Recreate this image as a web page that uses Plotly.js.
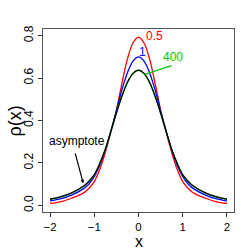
<!DOCTYPE html>
<html><head><meta charset="utf-8">
<script src="https://cdn.plot.ly/plotly-3.0.1.min.js"></script>
<style>html,body{margin:0;padding:0;background:#fff}#c{width:249px;height:249px}</style>
</head><body><div id="c"></div>
<script>
var xVals = [-2,-1.75,-1.5,-1.25,-1.125,-1,-0.875,-0.75,-0.625,-0.5,-0.375,-0.25,-0.125,0,0.125,0.25,0.375,0.5,0.625,0.75,0.875,1,1.125,1.25,1.5,1.75,2];
var red05 = [0.009,0.018,0.035,0.058,0.080,0.112,0.170,0.250,0.345,0.450,0.575,0.690,0.765,0.793,0.765,0.690,0.575,0.450,0.345,0.250,0.170,0.112,0.080,0.058,0.035,0.018,0.009];
var blue1 = [0.021,0.032,0.050,0.078,0.100,0.135,0.190,0.262,0.350,0.445,0.545,0.625,0.680,0.700,0.680,0.625,0.545,0.445,0.350,0.262,0.190,0.135,0.100,0.078,0.050,0.032,0.021];
var green400 = [0.028,0.040,0.059,0.089,0.112,0.144,0.197,0.264,0.349,0.434,0.514,0.579,0.621,0.636,0.621,0.579,0.514,0.434,0.349,0.264,0.197,0.144,0.112,0.089,0.059,0.040,0.028];
var asym = [0.029,0.041,0.060,0.090,0.113,0.145,0.198,0.265,0.350,0.435,0.515,0.580,0.622,0.637,0.622,0.580,0.515,0.435,0.350,0.265,0.198,0.145,0.113,0.090,0.060,0.041,0.029];
var xTicks = [-2,-1,0,1,2];
var xTickText = ['\u22122','\u22121','0','1','2'];
var yTicks = [0,0.2,0.4,0.6,0.8];
var yTickText = ['0.0','0.2','0.4','0.6','0.8'];

function tr(y, c){ return {x:xVals, y:y, mode:'lines', line:{color:c, width:1.3, shape:'spline', smoothing:1}, hoverinfo:'none', showlegend:false}; }
var data = [tr(red05,'#ff0000'), tr(blue1,'#0000ff'), tr(green400,'#00cc00'), tr(asym,'#000000')];
var f = 'Liberation Sans, Arial, sans-serif';
var layout = {
  width:249, height:249, paper_bgcolor:'#fff', plot_bgcolor:'#fff',
  margin:{l:43, r:15, t:29, b:37},
  font:{family:f, size:11, color:'#000'},
  xaxis:{range:[-2.16,2.16], tickvals:xTicks, ticktext:xTickText, ticks:'outside', ticklen:4, tickcolor:'#333',
    showgrid:false, zeroline:false, showline:true, linecolor:'#555', linewidth:1, mirror:true,
    tickfont:{size:11.5}, ticklabelstandoff:0},
  yaxis:{range:[-0.031,0.831], tickvals:yTicks, ticktext:yTickText, ticks:'outside', ticklen:4, tickcolor:'#333',
    showgrid:false, zeroline:false, showline:true, linecolor:'#555', linewidth:1, mirror:true, tickangle:-90,
    tickfont:{size:12}},
  annotations:[
    {xref:'paper', yref:'paper', x:0.5, y:-0.163, text:'x', showarrow:false, font:{size:16}, xanchor:'center', yanchor:'middle'},
    {xref:'paper', yref:'paper', x:-0.147, y:0.5, text:'\u03c1(x)', showarrow:false, font:{size:18}, textangle:-90, xanchor:'center', yanchor:'middle'},
    {x:0.36, y:0.80, text:'0.5', showarrow:false, font:{color:'#ff0000', size:12}, xanchor:'center', yanchor:'middle'},
    {x:0.09, y:0.725, text:'1', showarrow:false, font:{color:'#0000ff', size:12}, xanchor:'center', yanchor:'middle'},
    {x:0.79, y:0.70, text:'400', showarrow:false, font:{color:'#00cc00', size:12}, xanchor:'center', yanchor:'middle'},
    {x:0.147, y:0.617, ax:0.78, ay:0.661, axref:'x', ayref:'y', text:'', showarrow:true, arrowhead:0, arrowwidth:1.2, arrowcolor:'#00cc00'},
    {x:-1.39, y:0.305, text:'asymptote', showarrow:false, font:{color:'#000', size:12}, xanchor:'center', yanchor:'middle'},
    {x:-1.25, y:0.104, ax:-1.44, ay:0.252, axref:'x', ayref:'y', text:'', showarrow:true, arrowhead:2, arrowsize:0.6, arrowwidth:1.2, arrowcolor:'#000'}
  ]
};
Plotly.newPlot('c', data, layout, {staticPlot:true});
</script></body></html>
